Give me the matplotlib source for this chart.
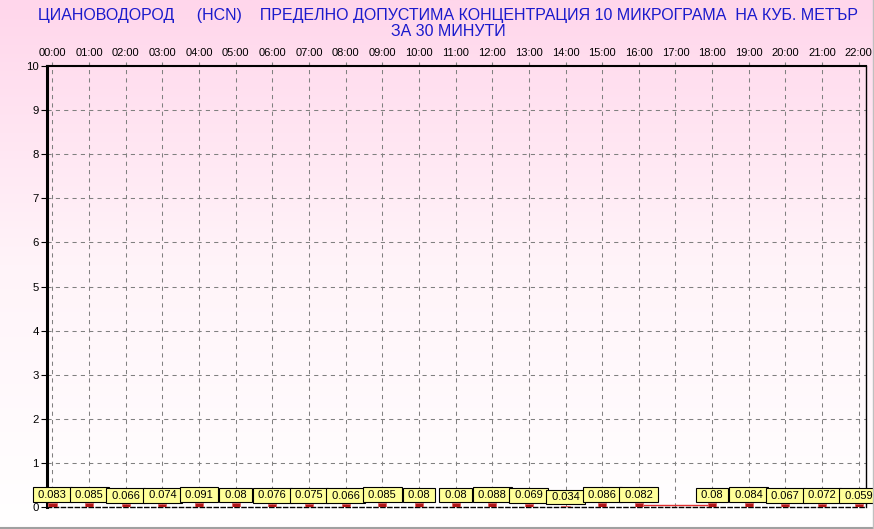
import numpy as np
import matplotlib
matplotlib.use("Agg")
import matplotlib.pyplot as plt
from matplotlib.colors import LinearSegmentedColormap
from matplotlib.lines import Line2D

plt.rcParams['font.family'] = ['Liberation Sans', 'DejaVu Sans']

hours = list(range(23))
hour_labels = [f"{h:02d}:00" for h in hours]
values = [0.083, 0.085, 0.066, 0.074, 0.091, 0.08, 0.076, 0.075, 0.066, 0.085,
          0.08, 0.08, 0.088, 0.069, 0.034, 0.086, 0.082, None, 0.08, 0.084,
          0.067, 0.072, 0.059]
y_ticks = list(range(11))
title = ("ЦИАНОВОДОРОД     (HCN)    ПРЕДЕЛНО ДОПУСТИМА КОНЦЕНТРАЦИЯ 10 МИКРОГРАМА  НА КУБ. МЕТЪР\n"
         "ЗА 30 МИНУТИ")

W, H = 874, 529
fig = plt.figure(figsize=(W / 100, H / 100), dpi=100)

# background gradient
bg = fig.add_axes([0, 0, 1, 1], zorder=-10)
cmap = LinearSegmentedColormap.from_list("pk", ["#ffffff", "#fff4f9", "#ffd6eb"])
grad = np.linspace(0, 1, 256).reshape(-1, 1)
bg.imshow(grad, aspect='auto', cmap=cmap, origin='lower', extent=[0, 1, 0, 1])
bg.set_axis_off()

ax = fig.add_axes([47 / W, 1 - 507 / H, (866 - 47) / W, (507 - 66) / H])
ax.set_facecolor('none')
ax.set_xlim(-0.15, 22.2)
ax.set_ylim(0, 10)

ax.grid(True, color='#808080', linestyle=(0, (4, 4)), linewidth=0.75)
ax.set_axisbelow(True)

xs = [h for h, v in zip(hours, values) if v is not None]
vs = [v for v in values if v is not None]

# red zero line across missing hours
for i, v in enumerate(values):
    if v is None and 0 < i < len(values) - 1:
        ax.plot([hours[i - 1] + 0.15, hours[i + 1]], [0.04, 0.04], color='#e03030', lw=1.0, zorder=2)

ax.bar(xs, vs, width=0.22, color='#b01818', edgecolor='#e06060', linewidth=0.6, zorder=3)

for x, v in zip(xs, vs):
    ax.annotate(f" {v:g} ", (x, v), xytext=(0, 2.5), textcoords='offset points',
                ha='center', va='bottom', fontsize=8.0, color='black', zorder=5,
                bbox=dict(boxstyle='square,pad=0.22', fc='#ffff99', ec='black', lw=0.8))

ax.set_xticks(hours)
ax.set_xticklabels(hour_labels)
ax.xaxis.tick_top()
ax.tick_params(axis='x', which='both', direction='out', length=3, pad=3,
               labelsize=8, color='#808080')
ax.set_yticks(y_ticks)
ax.tick_params(axis='y', direction='out', length=4, pad=2, labelsize=8.2)

ax.spines['left'].set_linewidth(2.2)
ax.spines['top'].set_linestyle((0, (3, 1)))
ax.spines['top'].set_linewidth(1.5)
ax.spines['bottom'].set_linestyle((0, (3, 2)))
ax.spines['bottom'].set_linewidth(1.0)
ax.spines['right'].set_linewidth(1.0)

fig.text(448 / W, 1 - 8 / H, title, ha='center', va='top', fontsize=11.55,
         color='#1a1acc', linespacing=1.12)

# window border lines
fig.add_artist(Line2D([0, 1], [1.5 / H, 1.5 / H], color='#a0a0a0', lw=1.5, transform=fig.transFigure))
fig.add_artist(Line2D([1 - 1 / W, 1 - 1 / W], [0, 1], color='#c0c0c0', lw=1.0, transform=fig.transFigure))

fig.savefig("out.png", dpi=100)
